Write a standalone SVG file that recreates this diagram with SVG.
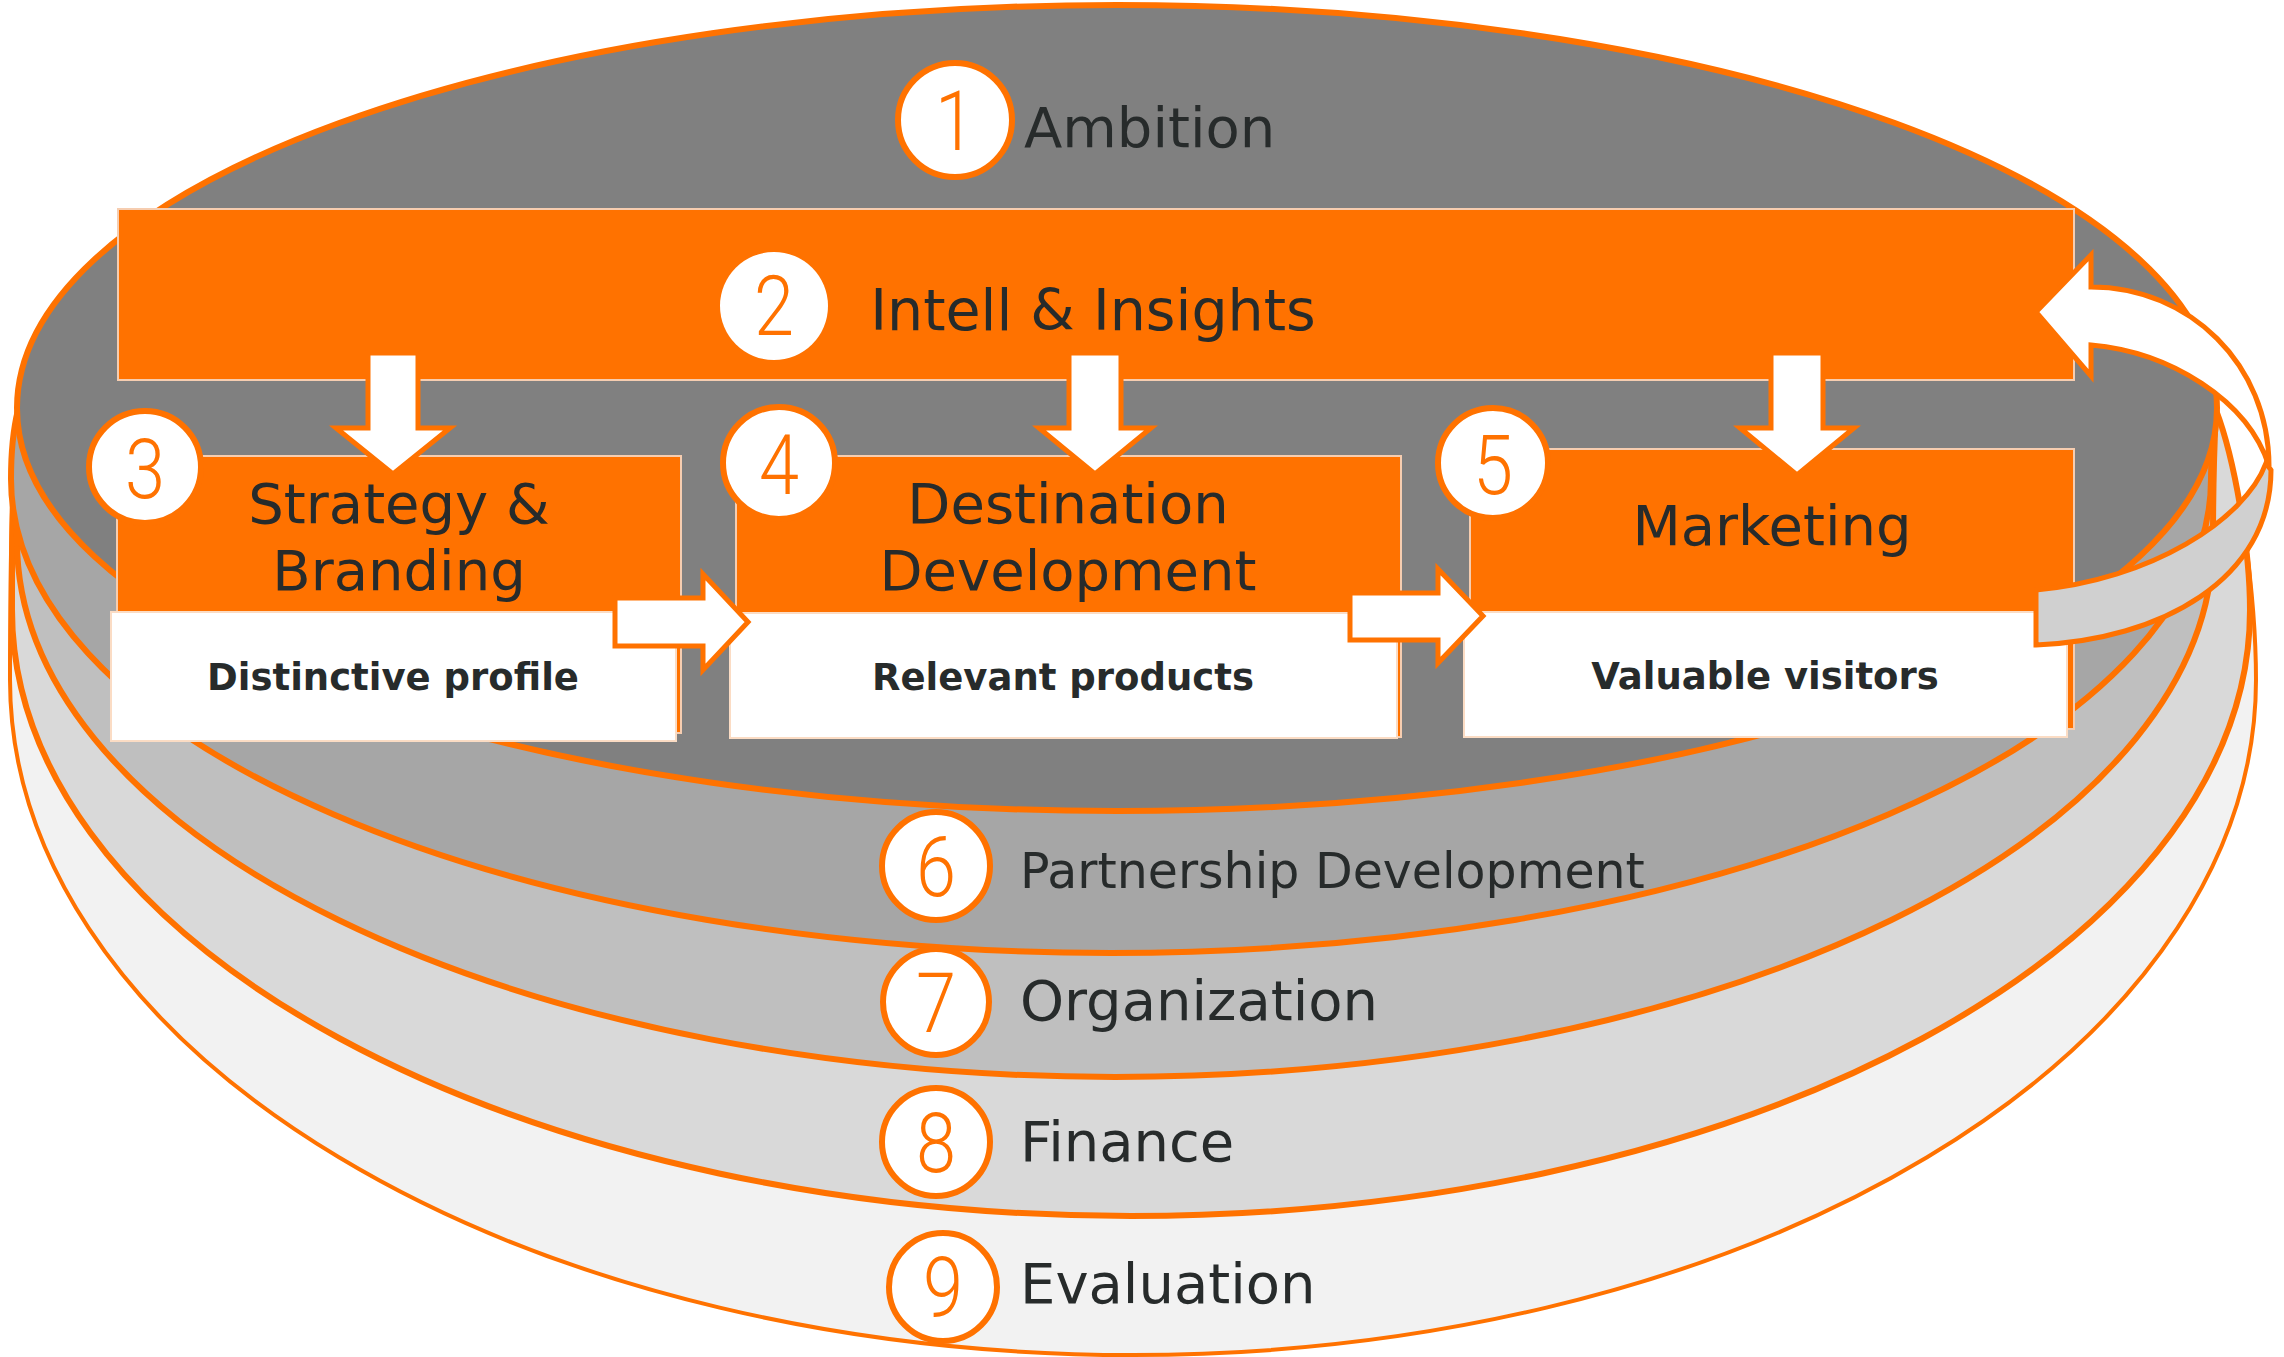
<svg xmlns="http://www.w3.org/2000/svg" width="2284" height="1357" viewBox="0 0 2284 1357">
<style>
.ring{stroke:#ff7200;stroke-width:6}
.box{fill:#ff7200;stroke:#f6cdb0;stroke-width:2}
.wbox{fill:#ffffff;stroke:#fbdcc4;stroke-width:2}
.circ{fill:#ffffff;stroke:#ff7200;stroke-width:6}
.num{font-family:Roboto,"Liberation Sans",sans-serif;font-weight:300;font-size:84px;fill:#ff7200;text-anchor:middle}
.lbl{font-family:"DejaVu Sans",Verdana,sans-serif;font-size:56px;fill:#272b2b}
.mid{text-anchor:middle}
.bold{font-family:"DejaVu Sans",Verdana,sans-serif;font-weight:bold;font-size:37px;fill:#272b2b;text-anchor:middle}
.arr{fill:#ffffff;stroke:#ff7200;stroke-width:5;stroke-linejoin:miter}
</style>
<rect width="2284" height="1357" fill="#ffffff"/>
<g id="layers">
  <g id="layer-evaluation">
    <path class="ring" style="stroke-width:4" fill="#f2f2f2" d="M 18,410 C 11,470 10,600 10,680 A 1123,675 0 0 0 2256,680 C 2256,600 2240,470 2216,410 A 1100,403 0 0 0 18,410 Z"/>
  </g>
  <g id="layer-finance">
    <path class="ring" fill="#d9d9d9" d="M 18,410 C 12,460 12,550 12,610 A 1119,606 0 0 0 2250,610 C 2250,550 2235,460 2216,410 A 1100,403 0 0 0 18,410 Z"/>
  </g>
  <g id="layer-organization">
    <path class="ring" fill="#bfbfbf" d="M 18,410 C 17,450 17,500 17,541 A 1098,536 0 0 0 2213,541 C 2213,500 2214,450 2216,410 A 1100,403 0 0 0 18,410 Z"/>
  </g>
  <g id="layer-partnership">
    <path class="ring" fill="#a6a6a6" d="M 18,410 C 13,430 11,455 11,479 A 1100,474 0 0 0 2211,479 C 2211,455 2214,430 2216,410 A 1100,403 0 0 0 18,410 Z"/>
  </g>
  <g id="layer-ambition">
    <ellipse class="ring" fill="#808080" cx="1117" cy="408" rx="1100" ry="403"/>
  </g>
</g>
<g id="node-1">
  <circle class="circ" cx="955" cy="120" r="57"/>
  <text class="num" x="955" y="150" textLength="40" lengthAdjust="spacingAndGlyphs">1</text>
  <text class="lbl" x="1024" y="147">Ambition</text>
</g>
<g id="node-2">
  <rect class="box" x="118" y="209" width="1956" height="171"/>
  <circle cx="774" cy="306" r="54" fill="#ffffff"/>
  <text class="num" x="774" y="335" textLength="40" lengthAdjust="spacingAndGlyphs">2</text>
  <text class="lbl mid" x="1093" y="330" style="font-size:57px">Intell &amp; Insights</text>
</g>
<g id="node-3">
  <rect class="box" x="117" y="456" width="564" height="277"/>
  <rect class="wbox" x="111" y="612" width="565" height="129"/>
  <text class="lbl mid" x="399" y="523">Strategy &amp;</text>
  <text class="lbl mid" x="399" y="590">Branding</text>
  <text class="bold" x="393" y="690">Distinctive profile</text>
</g>
<g id="node-4">
  <rect class="box" x="736" y="456" width="665" height="281"/>
  <rect class="wbox" x="730" y="613" width="667" height="125"/>
  <text class="lbl mid" x="1068" y="523">Destination</text>
  <text class="lbl mid" x="1068" y="590">Development</text>
  <text class="bold" x="1063" y="690">Relevant products</text>
</g>
<g id="node-5">
  <rect class="box" x="1470" y="449" width="604" height="280"/>
  <rect class="wbox" x="1464" y="612" width="603" height="125"/>
  <text class="lbl mid" x="1772" y="545">Marketing</text>
  <text class="bold" x="1765" y="689">Valuable visitors</text>
</g>
<g id="connectors">
  <path class="arr" d="M 368,353 L 418,353 L 418,428 L 450,428 L 393,474 L 336,428 L 368,428 Z"/>
  <path class="arr" d="M 1069,353 L 1121,353 L 1121,428 L 1151,428 L 1095,474 L 1039,428 L 1069,428 Z"/>
  <path class="arr" d="M 1771,353 L 1823,353 L 1823,428 L 1854,428 L 1797,475 L 1740,428 L 1771,428 Z"/>
  <path class="arr" d="M 615,598 L 703,598 L 703,574 L 748,622 L 703,670 L 703,646 L 615,646 Z"/>
  <path class="arr" d="M 1350,593 L 1438,593 L 1438,569 L 1483,616 L 1438,663 L 1438,640 L 1350,640 Z"/>
  <path class="arr" style="fill:#d0d0d0" d="M 2266,463 C 2245,520 2150,580 2036,590 L 2036,645 C 2160,640 2271,580 2271,470 Z"/>
  <path class="arr" d="M 2036,312 L 2091,255 L 2091,287 C 2190,287 2269,365 2269,466 C 2248,400 2170,352 2091,345 L 2091,376 Z"/>
</g>
<g id="node-3-badge">
  <circle class="circ" cx="145" cy="467" r="56"/>
  <text class="num" x="145" y="498" textLength="40" lengthAdjust="spacingAndGlyphs">3</text>
</g>
<g id="node-4-badge">
  <circle class="circ" cx="779" cy="463" r="56"/>
  <text class="num" x="779" y="494" textLength="40" lengthAdjust="spacingAndGlyphs">4</text>
</g>
<g id="node-5-badge">
  <circle class="circ" cx="1493" cy="463" r="55"/>
  <text class="num" x="1493" y="494" textLength="40" lengthAdjust="spacingAndGlyphs">5</text>
</g>
<g id="node-6">
  <circle class="circ" cx="936" cy="866" r="54"/>
  <text class="num" x="936" y="896" textLength="40" lengthAdjust="spacingAndGlyphs">6</text>
  <text class="lbl" x="1020" y="888" style="font-size:49px">Partnership Development</text>
</g>
<g id="node-7">
  <circle class="circ" cx="936" cy="1002" r="53"/>
  <text class="num" x="936" y="1032" textLength="40" lengthAdjust="spacingAndGlyphs">7</text>
  <text class="lbl" x="1020" y="1020">Organization</text>
</g>
<g id="node-8">
  <circle class="circ" cx="936" cy="1142" r="54"/>
  <text class="num" x="936" y="1172" textLength="40" lengthAdjust="spacingAndGlyphs">8</text>
  <text class="lbl" x="1020" y="1161">Finance</text>
</g>
<g id="node-9">
  <circle class="circ" cx="943" cy="1287" r="54"/>
  <text class="num" x="943" y="1317" textLength="40" lengthAdjust="spacingAndGlyphs">9</text>
  <text class="lbl" x="1020" y="1303">Evaluation</text>
</g>
</svg>
